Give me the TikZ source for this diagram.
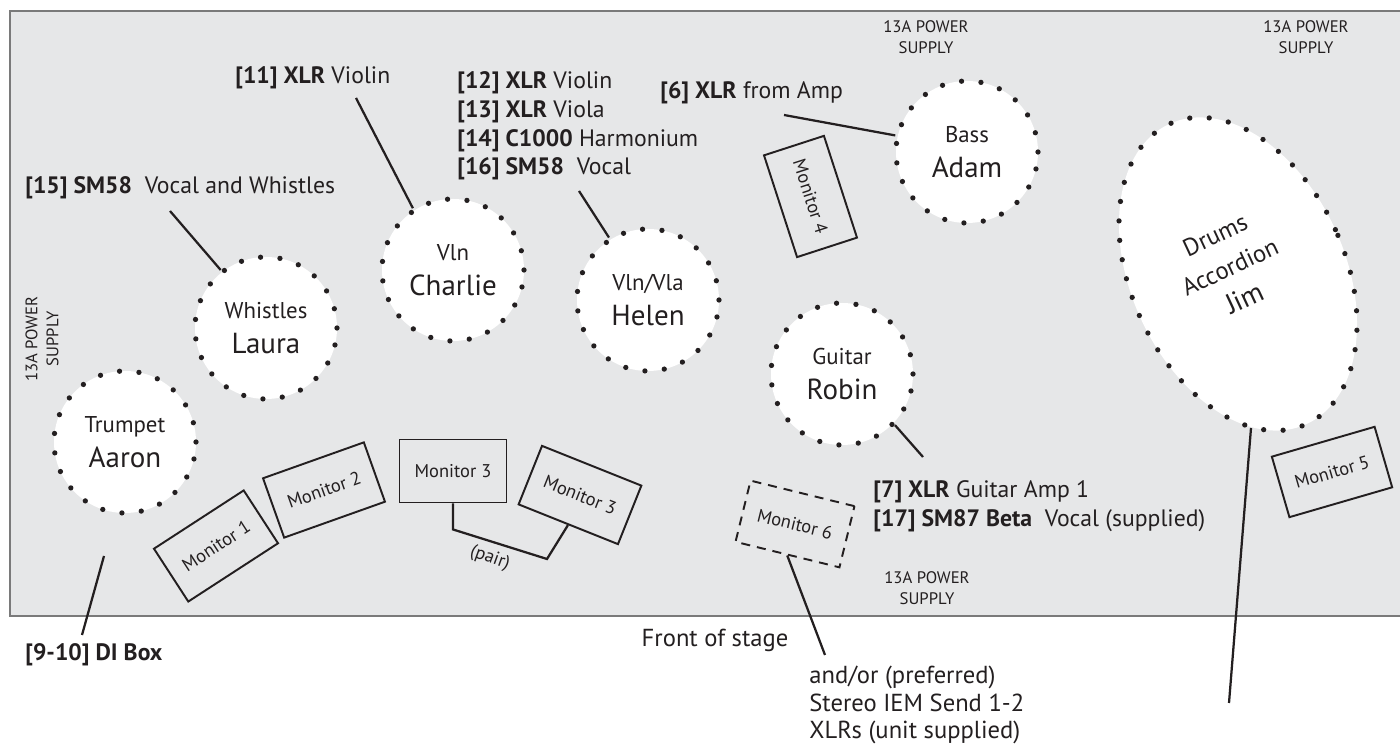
\documentclass[tikz,border=0pt]{standalone}
\usepackage{fontspec}
\setmainfont{PT Sans}
\usepackage{tikz}
\usetikzlibrary{shapes.geometric}
\definecolor{colorStage}{HTML}{E6E7E8}
\definecolor{colorEdge}{HTML}{7A7A7A}
\definecolor{colorInk}{HTML}{231F20}
\def\colorStage{colorStage}
\def\colorEdge{colorEdge}
\def\colorInk{colorInk}
\newcommand{\duo}[2]{{\fontsize{13pt}{14pt}\selectfont #1}\\#2}

\begin{document}
\begin{tikzpicture}[
    musicien/.style={circle, fill=white, draw=\colorInk, line width=3pt, line cap=round,
        dash pattern=on 0pt off 0.39cm, minimum size=2.84cm, inner sep=0pt, align=center,
        text=\colorInk, font=\fontsize{16.5pt}{20pt}\selectfont},
    retour/.style={draw=\colorInk, line width=1.1pt, minimum width=2.14cm, minimum height=1.26cm,
        inner sep=0pt, text=\colorInk, font=\fontsize{10.5pt}{12pt}\selectfont},
    etiquette/.style={anchor=west, inner sep=0pt, align=left, text=\colorInk,
        font=\fontsize{13.5pt}{16.4pt}\selectfont},
    secteur/.style={inner sep=0pt, align=center, text=\colorInk, font=\fontsize{9.5pt}{11.9pt}\selectfont},
    cable/.style={draw=\colorInk, line width=0.045cm}
]
    \useasboundingbox (0,0) rectangle (28,14.9);

    % Scene
    \draw[fill=\colorStage, draw=\colorEdge, line width=0.04cm] (0.2,2.58) rectangle (28.6,14.68);

    % Alimentations
    \node[secteur] (pwrhaut) at (18.52,14.16) {13A POWER\\SUPPLY};
    \node[secteur] (pwrdroite) at (26.12,14.16) {13A POWER\\SUPPLY};
    \node[secteur] (pwrbas) at (18.54,3.14) {13A POWER\\SUPPLY};
    \node[secteur, rotate=90] (pwrgauche) at (0.84,8.12) {13A POWER\\SUPPLY};

    % Musiciens
    \node[musicien] (aaron) at (2.50,6.06) {\duo{Trumpet}{Aaron}};
    \node[musicien] (laura) at (5.32,8.34) {\duo{Whistles}{Laura}};
    \node[musicien] (charlie) at (9.06,9.50) {\duo{Vln}{Charlie}};
    \node[musicien] (helen) at (12.96,8.90) {\duo{Vln/Vla}{Helen}};
    \node[musicien] (adam) at (19.34,11.86) {\duo{Bass}{Adam}};
    \node[musicien] (robin) at (16.84,7.42) {\duo{Guitar}{Robin}};

    % Batterie (ellipse)
    \draw[fill=white, draw=\colorInk, line width=3pt, line cap=round, dash pattern=on 0pt off 0.39cm,
        rotate around={24.5:(24.76,9.42)}] (24.76,9.42) ellipse [x radius=2.14, y radius=3.3];
    \node[rotate=25, align=center, text=\colorInk, font=\fontsize{16pt}{20pt}\selectfont] (jim)
        at (24.60,9.56) {{\fontsize{14pt}{14pt}\selectfont Drums}\\{\fontsize{14pt}{14pt}\selectfont Accordion}\\Jim};

    % Retours
    \node[retour, rotate=33] (mon1) at (4.32,3.98) {Monitor 1};
    \node[retour, rotate=19.6] (mon2) at (6.48,5.10) {Monitor 2};
    \node[retour] (mon3a) at (9.06,5.48) {Monitor 3};
    \node[retour, rotate=-21.8] (mon3b) at (11.60,5.00) {Monitor 3};
    \node[retour, rotate=-72] (mon4) at (16.21,10.97) {Monitor 4};
    \node[retour, rotate=16.2] (mon5) at (26.64,5.46) {Monitor 5};
    \node[retour, rotate=-13.8, dash pattern=on 0.18cm off 0.14cm] (mon6) at (15.90,4.42) {Monitor 6};

    \coordinate (pairknee) at (10.94,3.72);
    \draw[cable] (mon3a.south) -- ++(0,-0.52) -- (pairknee) -- (mon3b.south);
    \node[rotate=-20, inner sep=0pt, text=\colorInk, font=\fontsize{10.5pt}{12pt}\selectfont] (pair) at (9.80,3.74) {(pair)};

    % Etiquettes
    \node[etiquette] (lblquinze) at (0.50,11.14) {\textbf{[15] SM58}\ \ Vocal and Whistles};
    \node[etiquette] (lblonze) at (4.70,13.34) {\textbf{[11] XLR} Violin};
    \node[etiquette] (lbldouze) at (9.14,12.38) {\textbf{[12] XLR} Violin\\\textbf{[13] XLR} Viola\\\textbf{[14] C1000} Harmonium\\\textbf{[16] SM58}\ \ Vocal};
    \node[etiquette] (lblsix) at (13.20,13.04) {\textbf{[6] XLR} from Amp};
    \node[etiquette] (lblsept) at (17.46,4.78) {\textbf{[7] XLR} Guitar Amp 1\\\textbf{[17] SM87 Beta}\ \ Vocal (supplied)};
    \node[etiquette] (lbldi) at (0.50,1.80) {\textbf{[9-10] DI Box}};
    \node[inner sep=0pt, text=\colorInk, font=\fontsize{14pt}{16pt}\selectfont] (front) at (14.30,2.10) {Front of stage};
    \node[etiquette, font=\fontsize{14pt}{15.9pt}\selectfont] (iem) at (16.18,0.80) {and/or (preferred)\\Stereo IEM Send 1-2\\XLRs (unit supplied)};

    % Cables
    \coordinate (c15) at (3.40,10.68);
    \coordinate (c11) at (7.12,12.94);
    \coordinate (c12) at (11.58,11.08);
    \coordinate (c6) at (15.68,12.60);
    \coordinate (c7) at (18.46,5.76);
    \coordinate (drumsbord) at (25.02,6.34);
    \coordinate (cdrums) at (24.58,0.84);
    \coordinate (cm6) at (16.50,1.80);
    \coordinate (cdihaut) at (2.08,3.78);
    \coordinate (cdibas) at (1.64,2.20);

    \draw[cable] (c15) -- (laura.128);
    \draw[cable] (c11) -- (charlie.123);
    \draw[cable] (c12) -- (helen.122);
    \draw[cable] (c6) -- (adam.167);
    \draw[cable] (robin.-44) -- (c7);
    \draw[cable] (drumsbord) -- (cdrums);
    \draw[cable] (mon6.south) -- (cm6);
    \draw[cable] (cdihaut) -- (cdibas);
\end{tikzpicture}
\end{document}
